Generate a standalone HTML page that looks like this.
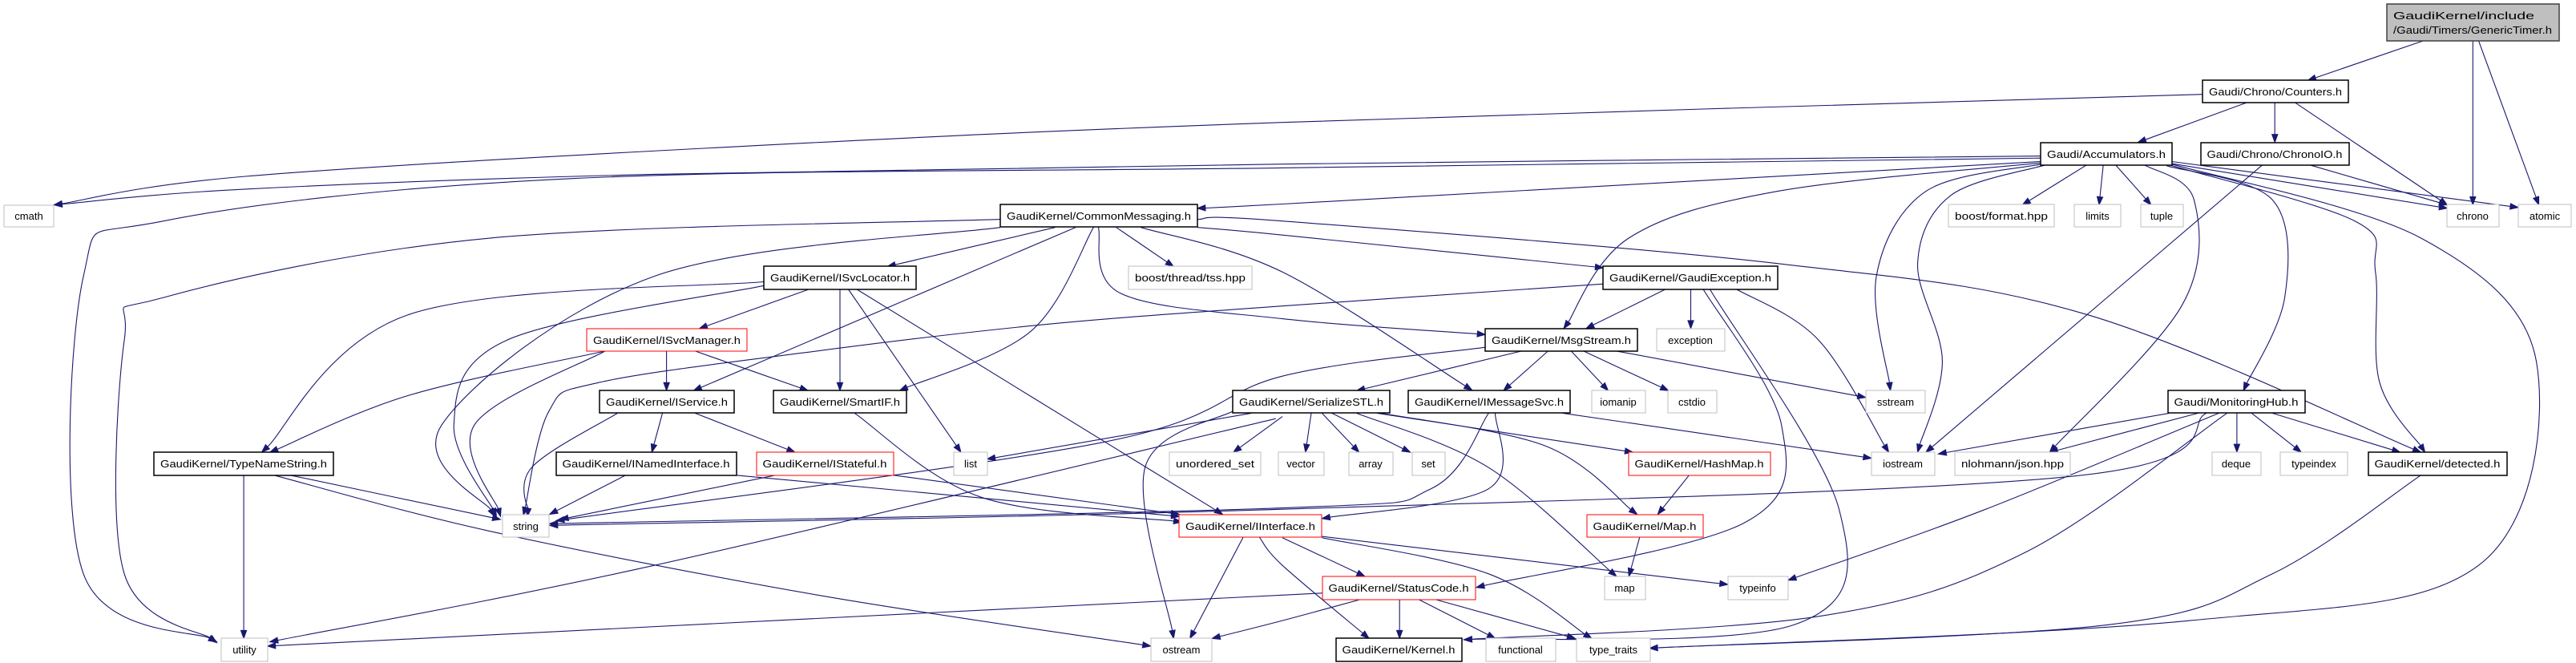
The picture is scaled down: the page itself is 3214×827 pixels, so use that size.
<!DOCTYPE html>
<html><head><meta charset="utf-8"><style>
html,body{margin:0;padding:0;background:#fff;width:3214px;height:827px;overflow:hidden}
svg{display:block}
text{font-family:"Liberation Sans","DejaVu Sans",sans-serif;font-size:13px;fill:#000}
</style></head><body>
<svg id="g" width="3214" height="827" viewBox="0 0 3214 827" xmlns="http://www.w3.org/2000/svg">
<g id="edges" fill="none" stroke="#191970" stroke-width="1.1"></g>
<g id="heads" fill="#191970" stroke="#191970"></g>
<g id="nodes">
<rect x="2978" y="5" width="215" height="46" fill="#bfbfbf" stroke="#404040" stroke-width="1.5"/>
<text x="2986" y="24" textLength="176" lengthAdjust="spacingAndGlyphs">GaudiKernel/include</text>
<text x="2986" y="42" textLength="198" lengthAdjust="spacingAndGlyphs">/Gaudi/Timers/GenericTimer.h</text>

<rect x="2748" y="100" width="182" height="28" fill="#fff" stroke="#000" stroke-width="1.5"/><text x="2839" y="119" text-anchor="middle" textLength="166" lengthAdjust="spacingAndGlyphs">Gaudi/Chrono/Counters.h</text>
<rect x="2546" y="178" width="164" height="28" fill="#fff" stroke="#000" stroke-width="1.5"/><text x="2628" y="197" text-anchor="middle" textLength="148" lengthAdjust="spacingAndGlyphs">Gaudi/Accumulators.h</text>
<rect x="2746" y="178" width="185" height="28" fill="#fff" stroke="#000" stroke-width="1.5"/><text x="2838" y="197" text-anchor="middle" textLength="169" lengthAdjust="spacingAndGlyphs">Gaudi/Chrono/ChronoIO.h</text>
<rect x="5" y="256" width="62" height="27" fill="#fff" stroke="#bfbfbf"/><text x="36" y="274" text-anchor="middle">cmath</text>
<rect x="1248" y="255" width="246" height="28" fill="#fff" stroke="#000" stroke-width="1.5"/><text x="1371" y="274" text-anchor="middle" textLength="230" lengthAdjust="spacingAndGlyphs">GaudiKernel/CommonMessaging.h</text>
<rect x="2431" y="255" width="132" height="28" fill="#fff" stroke="#bfbfbf"/><text x="2497" y="274" text-anchor="middle" textLength="116" lengthAdjust="spacingAndGlyphs">boost/format.hpp</text>
<rect x="2588" y="255" width="58" height="28" fill="#fff" stroke="#bfbfbf"/><text x="2617" y="274" text-anchor="middle">limits</text>
<rect x="2671" y="255" width="53" height="28" fill="#fff" stroke="#bfbfbf"/><text x="2697" y="274" text-anchor="middle">tuple</text>
<rect x="3053" y="255" width="65" height="28" fill="#fff" stroke="#bfbfbf"/><text x="3085" y="274" text-anchor="middle">chrono</text>
<rect x="3142" y="255" width="66" height="28" fill="#fff" stroke="#bfbfbf"/><text x="3175" y="274" text-anchor="middle">atomic</text>
<rect x="953" y="332" width="190" height="29" fill="#fff" stroke="#000" stroke-width="1.5"/><text x="1048" y="351" text-anchor="middle" textLength="174" lengthAdjust="spacingAndGlyphs">GaudiKernel/ISvcLocator.h</text>
<rect x="1408" y="332" width="154" height="29" fill="#fff" stroke="#bfbfbf"/><text x="1485" y="351" text-anchor="middle" textLength="138" lengthAdjust="spacingAndGlyphs">boost/thread/tss.hpp</text>
<rect x="2000" y="332" width="218" height="29" fill="#fff" stroke="#000" stroke-width="1.5"/><text x="2109" y="351" text-anchor="middle" textLength="202" lengthAdjust="spacingAndGlyphs">GaudiKernel/GaudiException.h</text>
<rect x="732" y="410" width="200" height="28" fill="#fff" stroke="#ff0000"/><text x="832" y="429" text-anchor="middle" textLength="184" lengthAdjust="spacingAndGlyphs">GaudiKernel/ISvcManager.h</text>
<rect x="1853" y="410" width="190" height="28" fill="#fff" stroke="#000" stroke-width="1.5"/><text x="1948" y="429" text-anchor="middle" textLength="174" lengthAdjust="spacingAndGlyphs">GaudiKernel/MsgStream.h</text>
<rect x="2067" y="410" width="85" height="28" fill="#fff" stroke="#bfbfbf"/><text x="2109" y="429" text-anchor="middle">exception</text>
<rect x="748" y="487" width="168" height="28" fill="#fff" stroke="#000" stroke-width="1.5"/><text x="832" y="506" text-anchor="middle" textLength="152" lengthAdjust="spacingAndGlyphs">GaudiKernel/IService.h</text>
<rect x="965" y="487" width="166" height="28" fill="#fff" stroke="#000" stroke-width="1.5"/><text x="1048" y="506" text-anchor="middle" textLength="150" lengthAdjust="spacingAndGlyphs">GaudiKernel/SmartIF.h</text>
<rect x="1538" y="487" width="196" height="28" fill="#fff" stroke="#000" stroke-width="1.5"/><text x="1636" y="506" text-anchor="middle" textLength="180" lengthAdjust="spacingAndGlyphs">GaudiKernel/SerializeSTL.h</text>
<rect x="1757" y="487" width="202" height="28" fill="#fff" stroke="#000" stroke-width="1.5"/><text x="1858" y="506" text-anchor="middle" textLength="186" lengthAdjust="spacingAndGlyphs">GaudiKernel/IMessageSvc.h</text>
<rect x="1986" y="487" width="67" height="28" fill="#fff" stroke="#bfbfbf"/><text x="2019" y="506" text-anchor="middle">iomanip</text>
<rect x="2081" y="487" width="61" height="28" fill="#fff" stroke="#bfbfbf"/><text x="2111" y="506" text-anchor="middle">cstdio</text>
<rect x="2328" y="487" width="74" height="28" fill="#fff" stroke="#bfbfbf"/><text x="2365" y="506" text-anchor="middle">sstream</text>
<rect x="2705" y="487" width="171" height="28" fill="#fff" stroke="#000" stroke-width="1.5"/><text x="2790" y="506" text-anchor="middle" textLength="155" lengthAdjust="spacingAndGlyphs">Gaudi/MonitoringHub.h</text>
<rect x="192" y="564" width="224" height="29" fill="#fff" stroke="#000" stroke-width="1.5"/><text x="304" y="583" text-anchor="middle" textLength="208" lengthAdjust="spacingAndGlyphs">GaudiKernel/TypeNameString.h</text>
<rect x="694" y="564" width="225" height="29" fill="#fff" stroke="#000" stroke-width="1.5"/><text x="806" y="583" text-anchor="middle" textLength="209" lengthAdjust="spacingAndGlyphs">GaudiKernel/INamedInterface.h</text>
<rect x="944" y="564" width="171" height="29" fill="#fff" stroke="#ff0000"/><text x="1029" y="583" text-anchor="middle" textLength="155" lengthAdjust="spacingAndGlyphs">GaudiKernel/IStateful.h</text>
<rect x="1190" y="564" width="42" height="29" fill="#fff" stroke="#bfbfbf"/><text x="1211" y="583" text-anchor="middle">list</text>
<rect x="1459" y="564" width="114" height="29" fill="#fff" stroke="#bfbfbf"/><text x="1516" y="583" text-anchor="middle" textLength="98" lengthAdjust="spacingAndGlyphs">unordered_set</text>
<rect x="1595" y="564" width="57" height="29" fill="#fff" stroke="#bfbfbf"/><text x="1623" y="583" text-anchor="middle">vector</text>
<rect x="1683" y="564" width="55" height="29" fill="#fff" stroke="#bfbfbf"/><text x="1710" y="583" text-anchor="middle">array</text>
<rect x="1762" y="564" width="41" height="29" fill="#fff" stroke="#bfbfbf"/><text x="1782" y="583" text-anchor="middle">set</text>
<rect x="2032" y="564" width="177" height="29" fill="#fff" stroke="#ff0000"/><text x="2120" y="583" text-anchor="middle" textLength="161" lengthAdjust="spacingAndGlyphs">GaudiKernel/HashMap.h</text>
<rect x="2335" y="564" width="79" height="29" fill="#fff" stroke="#bfbfbf"/><text x="2374" y="583" text-anchor="middle">iostream</text>
<rect x="2439" y="564" width="144" height="29" fill="#fff" stroke="#bfbfbf"/><text x="2511" y="583" text-anchor="middle" textLength="128" lengthAdjust="spacingAndGlyphs">nlohmann/json.hpp</text>
<rect x="2760" y="564" width="61" height="29" fill="#fff" stroke="#bfbfbf"/><text x="2790" y="583" text-anchor="middle">deque</text>
<rect x="2845" y="564" width="84" height="29" fill="#fff" stroke="#bfbfbf"/><text x="2887" y="583" text-anchor="middle">typeindex</text>
<rect x="2955" y="564" width="173" height="29" fill="#fff" stroke="#000" stroke-width="1.5"/><text x="3041" y="583" text-anchor="middle" textLength="157" lengthAdjust="spacingAndGlyphs">GaudiKernel/detected.h</text>
<rect x="627" y="642" width="58" height="28" fill="#fff" stroke="#bfbfbf"/><text x="656" y="661" text-anchor="middle">string</text>
<rect x="1471" y="642" width="178" height="28" fill="#fff" stroke="#ff0000"/><text x="1560" y="661" text-anchor="middle" textLength="162" lengthAdjust="spacingAndGlyphs">GaudiKernel/IInterface.h</text>
<rect x="1980" y="642" width="145" height="28" fill="#fff" stroke="#ff0000"/><text x="2052" y="661" text-anchor="middle" textLength="129" lengthAdjust="spacingAndGlyphs">GaudiKernel/Map.h</text>
<rect x="1650" y="719" width="191" height="29" fill="#fff" stroke="#ff0000"/><text x="1745" y="738" text-anchor="middle" textLength="175" lengthAdjust="spacingAndGlyphs">GaudiKernel/StatusCode.h</text>
<rect x="2002" y="719" width="51" height="29" fill="#fff" stroke="#bfbfbf"/><text x="2027" y="738" text-anchor="middle">map</text>
<rect x="2156" y="719" width="75" height="29" fill="#fff" stroke="#bfbfbf"/><text x="2193" y="738" text-anchor="middle">typeinfo</text>
<rect x="276" y="796" width="58" height="29" fill="#fff" stroke="#bfbfbf"/><text x="305" y="815" text-anchor="middle">utility</text>
<rect x="1436" y="796" width="76" height="29" fill="#fff" stroke="#bfbfbf"/><text x="1474" y="815" text-anchor="middle">ostream</text>
<rect x="1667" y="796" width="157" height="29" fill="#fff" stroke="#000" stroke-width="1.5"/><text x="1745" y="815" text-anchor="middle" textLength="141" lengthAdjust="spacingAndGlyphs">GaudiKernel/Kernel.h</text>
<rect x="1854" y="796" width="87" height="29" fill="#fff" stroke="#bfbfbf"/><text x="1897" y="815" text-anchor="middle">functional</text>
<rect x="1967" y="796" width="92" height="29" fill="#fff" stroke="#bfbfbf"/><text x="2013" y="815" text-anchor="middle">type_traits</text>
</g>
</svg>
<script>
var E=[
"b1383,96 b1243,189","b1443,96 b1443,482","b1450,96 b1523,482",
"b1115,222 b0,288 a900,345 a300,415 a66,482",
"b1168,242 b1037,335","b1203,242 b1203,335","b1228,242 b1412,482",
"b919,367 b0,386 a800,410 a300,445 a66,482",
"b919,372 b0,395 a700,420 a200,520 a102,650 a102,1350 a265,1510",
"b919,380 b0,480 a1464,490",
"a1223,516 a600,560 a200,700 a152,800 a152,1350 a265,1512",
"b920,383 b600,450 b420,560 b341,773",
"b975,388 b897,482","b995,388 b990,482","b1010,388 b1053,482",
"b920,386 b780,450 b720,650 b737,919",
"b925,388 b810,460 b770,620 b800,850 b770,1064",
"b1045,388 b1105,470 b1090,720 b930,1064",
"b1072,390 b1200,470 b1215,700 b1165,919",
"b1075,388 b1300,520 b1325,640 b1330,900 b1385,1064",
"b1078,386 b1380,560 b1520,850 b1450,1330 b1100,1460 b445,1525",
"b1078,385 b1412,490","b1078,380 b1498,488",
"b1245,388 b1412,482","b1188,388 b780,1064",
"a1223,535 a800,650 a540,1000 a605,1215",
"a1290,535 a1085,627","a1315,535 a848,919","a1337,535 a1260,780 a1100,919",
"a1365,535 a1435,627","a1343,535 a1370,690 b0,750 b246,787",
"a1464,535 b0,553 b389,630","a1395,535 b0,640 b230,918",
"a1464,516 b0,520 b600,620 b975,740 b1380,1064",
"a934,663 a500,740 a320,1064","a934,672 a620,800 a555,1000 a607,1215",
"a990,680 a855,773","a1027,680 a1027,919","a1037,680 a1175,1064","a1047,680 a1495,1210",
"a740,826 a500,930 a330,1064","a740,826 a580,1000 a612,1215","a815,826 a815,919","a850,826 a988,919",
"a755,972 a650,1100 a645,1215","a810,972 a797,1064","a850,972 a972,1064",
"a1045,972 a1200,1170 a1445,1228",
"a298,1118 a298,1502","a355,1118 a612,1222","a335,1118 a600,1250 a1000,1400 a1407,1520",
"a765,1118 a672,1210","a900,1118 a1442,1215","a948,1118 a685,1222","a1093,1118 a1442,1210",
"b389,668 b0,720 a1274,764 a982,830 a732,900 a671,968 a640,1212",
"b246,817 b0,885 a1350,1040 a680,1225",
"b250,972 b180,1150 b0,1195 a672,1232",
"b1120,972 b960,1120 b0,1198 a672,1236",
"a1520,1264 a1455,1502","b0,1265 b100,1356","a1540,1264 b0,1330 b105,1502",
"b48,1262 b540,1375","b48,1265 b250,1350 b375,1502",
"b49,1395 a1568,1400 a327,1520","b95,1410 b0,1460 a1482,1502",
"b142,1410 b142,1502","b165,1410 b258,1502","b185,1410 b355,1502",
"a1530,972 a1207,1080","a1560,985 a800,1330 a330,1510","a1510,965 a1400,1100 a1435,1502",
"a1568,980 a1508,1064","b35,972 b28,1064","b48,972 b93,1064","b60,972 b155,1064",
"b90,972 b250,1100 b405,1356","b115,972 b425,1064","b120,972 b320,1050 b430,1210",
"b493,1118 b455,1210","b433,1264 b420,1356",
"b258,972 b250,1150 b48,1220","b340,972 b714,1078",
"b290,826 b90,919","b322,826 b268,919","b350,826 b395,919","b365,826 b468,919","b405,826 b707,935",
"b465,680 b368,773","b495,680 b495,773","b510,680 b605,1000 b560,1230 b235,1382",
"b518,680 b675,1200 b620,1470 b220,1505","b550,680 b650,800 b735,1064",
"b1075,972 b795,1068","b1110,972 b930,1064","b1157,972 b1157,1064","b1175,972 b1235,1064",
"b1200,972 b1355,1064","b1135,972 b850,1200 b613,1365","b1145,972 b900,1300 b650,1450 b220,1505",
"b1380,1118 b1200,1350 b1000,1470 b445,1525"
];
function cv(s){var r=s[0],p=s.slice(1).split(","),x=+p[0],y=+p[1];
 return r=="a"?[x*1.0204,y*0.5302]:[1600+x*1.0293,y*0.5302];}
var NS="http://www.w3.org/2000/svg",ge=document.getElementById("edges"),gh=document.getElementById("heads");
E.forEach(function(e){
 var P=e.split(" ").map(cv),n=P.length,segs=[];
 for(var i=0;i<n-1;i++){var p0=P[i>0?i-1:i],p1=P[i],p2=P[i+1],p3=P[i+2<n?i+2:i+1];
  segs.push([[p1[0]+(p2[0]-p0[0])/6,p1[1]+(p2[1]-p0[1])/6],[p2[0]-(p3[0]-p1[0])/6,p2[1]-(p3[1]-p1[1])/6],p2]);}
 var last=segs[segs.length-1],tip=last[2],c2=last[1];
 var dx=tip[0]-c2[0],dy=tip[1]-c2[1];
 if(Math.abs(dx)+Math.abs(dy)<0.01){var pr=P[n-2];dx=tip[0]-pr[0];dy=tip[1]-pr[1];}
 var L=Math.sqrt(dx*dx+dy*dy)||1;dx/=L;dy/=L;
 var AL=10,AW=3.6,end=[tip[0]-dx*AL,tip[1]-dy*AL];
 last[2]=end;
 var d="M"+P[0][0].toFixed(1)+","+P[0][1].toFixed(1);
 segs.forEach(function(s){d+=" C"+s[0][0].toFixed(1)+","+s[0][1].toFixed(1)+" "+s[1][0].toFixed(1)+","+s[1][1].toFixed(1)+" "+s[2][0].toFixed(1)+","+s[2][1].toFixed(1);});
 var pa=document.createElementNS(NS,"path");pa.setAttribute("d",d);ge.appendChild(pa);
 var pg=document.createElementNS(NS,"polygon");
 pg.setAttribute("points",tip[0]+","+tip[1]+" "+(end[0]-dy*AW)+","+(end[1]+dx*AW)+" "+(end[0]+dy*AW)+","+(end[1]-dx*AW));
 gh.appendChild(pg);
});
</script>
</body></html>
